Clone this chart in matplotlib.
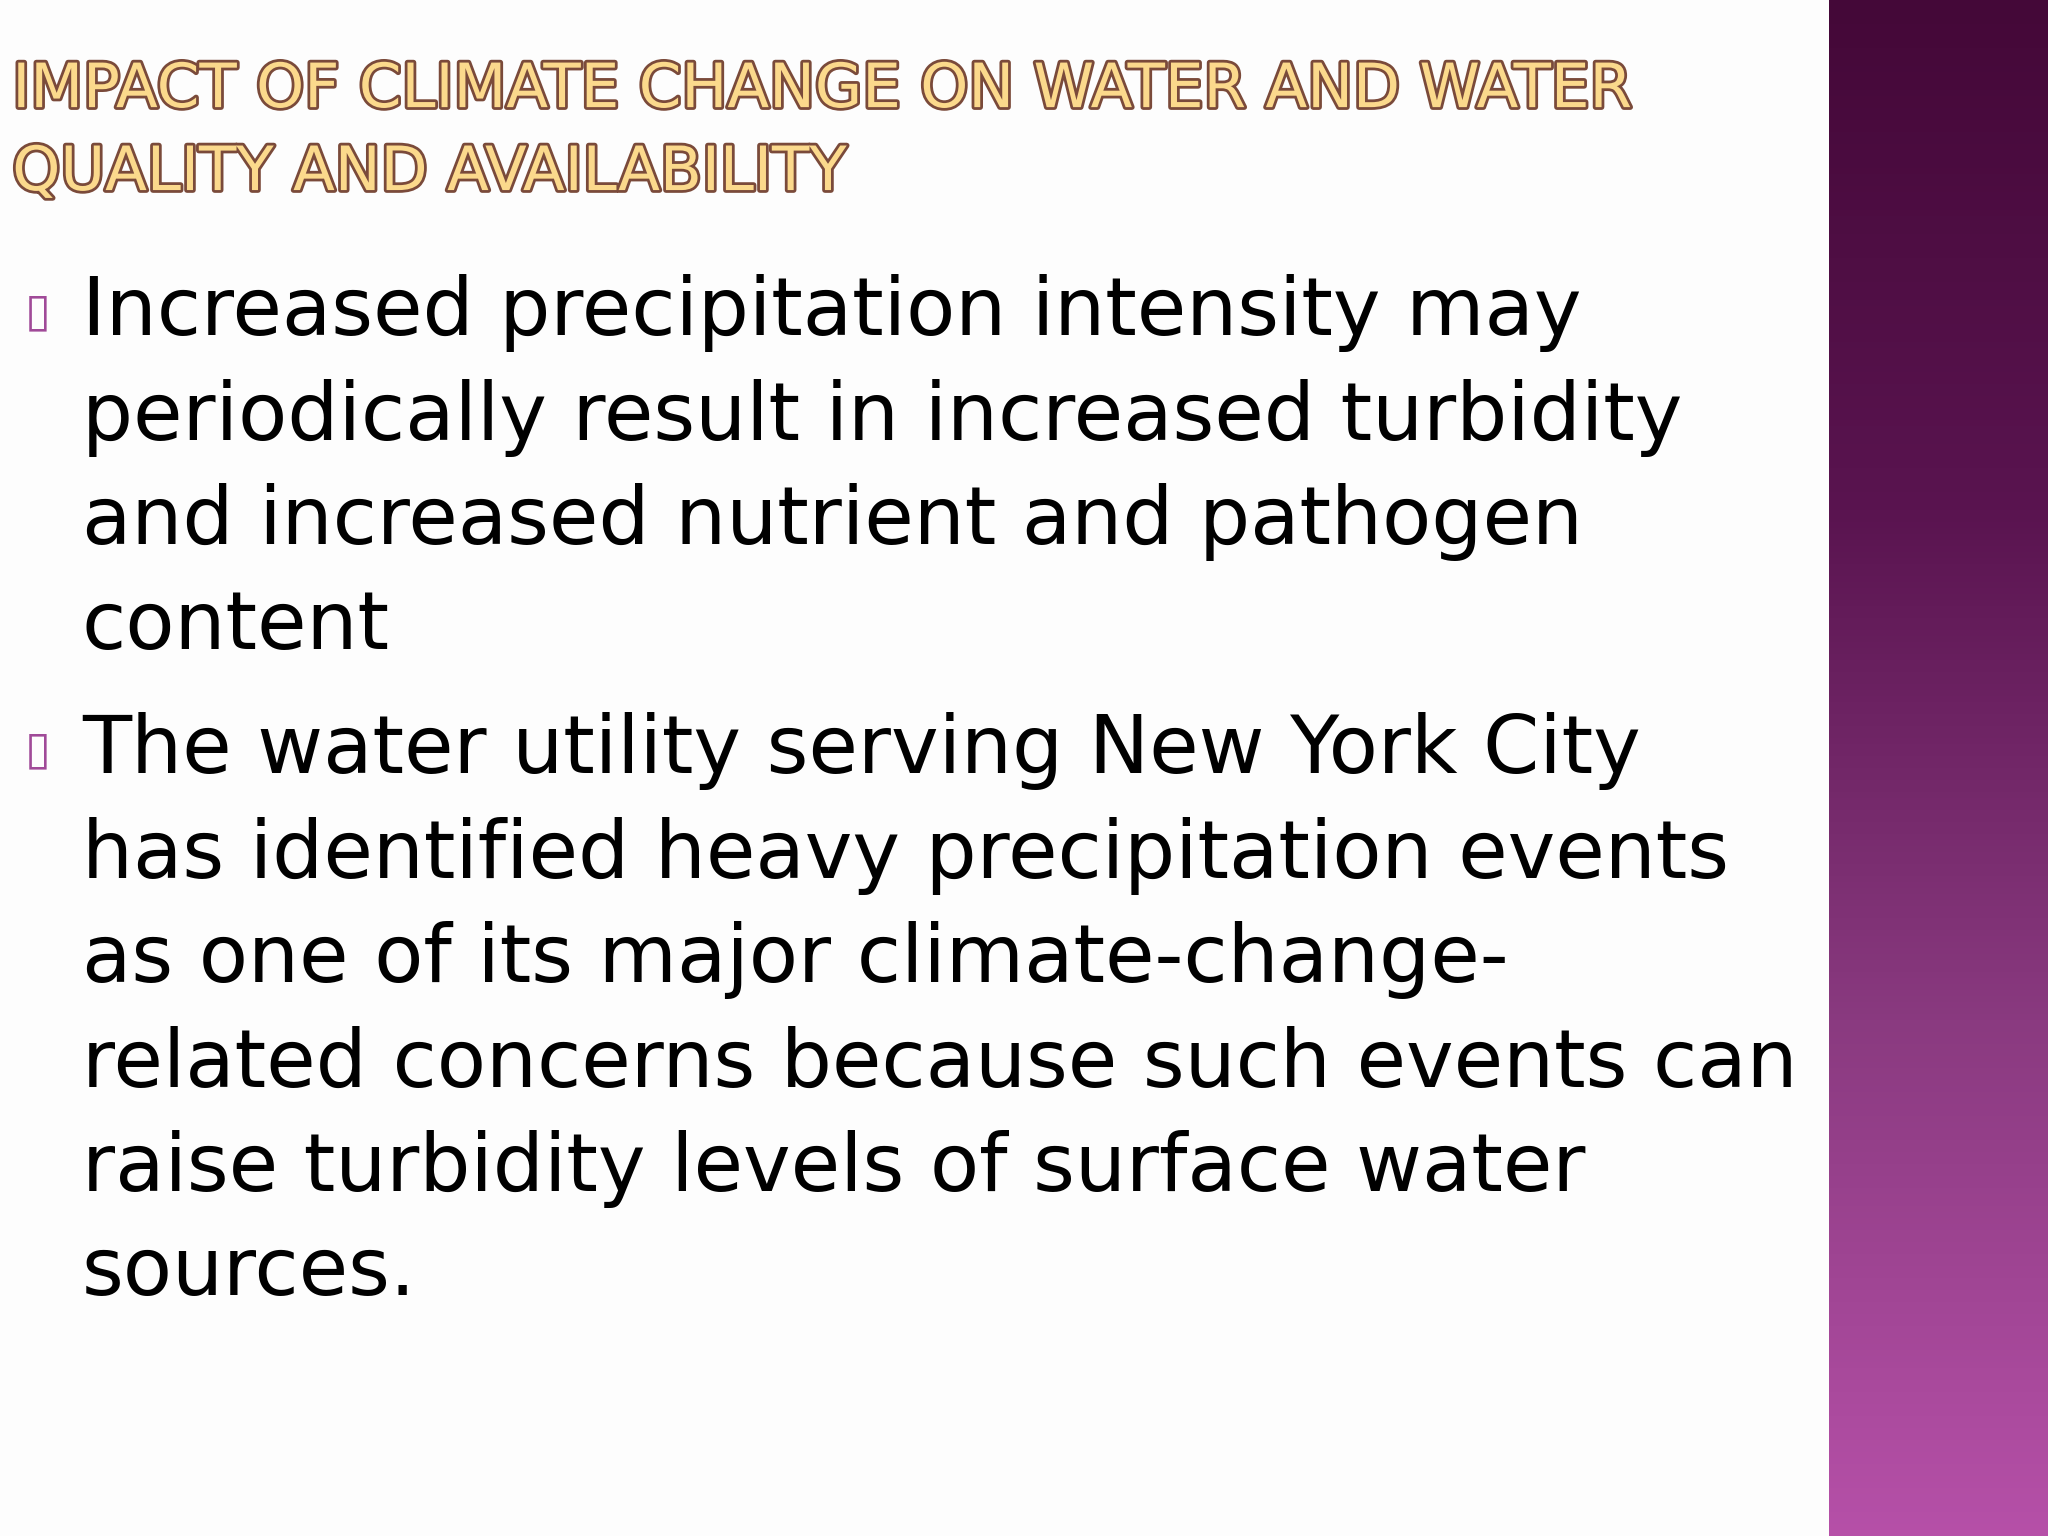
import matplotlib.pyplot as plt
import matplotlib.patheffects as pe
import numpy as np
from matplotlib.colors import LinearSegmentedColormap

title_lines = ["IMPACT OF CLIMATE CHANGE ON WATER AND WATER",
               "QUALITY AND AVAILABILITY"]
bullet_1 = ["Increased precipitation intensity may",
            "periodically result in increased turbidity",
            "and increased nutrient and pathogen",
            "content"]
bullet_2 = ["The water utility serving New York City",
            "has identified heavy precipitation events",
            "as one of its major climate-change-",
            "related concerns because such events can",
            "raise turbidity levels of surface water",
            "sources."]

fig = plt.figure(figsize=(20.48, 15.36), dpi=100)
fig.patch.set_facecolor('#fdfdfd')

# purple band on the right
band = fig.add_axes([0.893, 0, 0.107, 1])
cmap = LinearSegmentedColormap.from_list('band', ['#b650a8', '#8a3a80', '#5a1450', '#440838'])
band.imshow(np.linspace(0, 1, 256).reshape(-1, 1), aspect='auto', cmap=cmap,
            extent=[0, 1, 0, 1], origin='lower')
band.axis('off')

outline = [pe.withStroke(linewidth=4, foreground='#7a4a3a')]
for i, line in enumerate(title_lines):
    fig.text(0.006, 0.941 - i * 0.054, line, fontsize=44, color='#fbd98c',
             family='DejaVu Sans', va='center', ha='left', path_effects=outline)

y = 0.796
step = 0.068
for lines in (bullet_1, bullet_2):
    fig.text(0.012, y, '\u25af', fontsize=34, color='#a04a98', va='center')
    for line in lines:
        fig.text(0.040, y, line, fontsize=58, color='black',
                 family='DejaVu Sans', va='center', ha='left')
        y -= step
    y -= 0.013

fig.savefig('out.png', dpi=100, facecolor=fig.get_facecolor())
